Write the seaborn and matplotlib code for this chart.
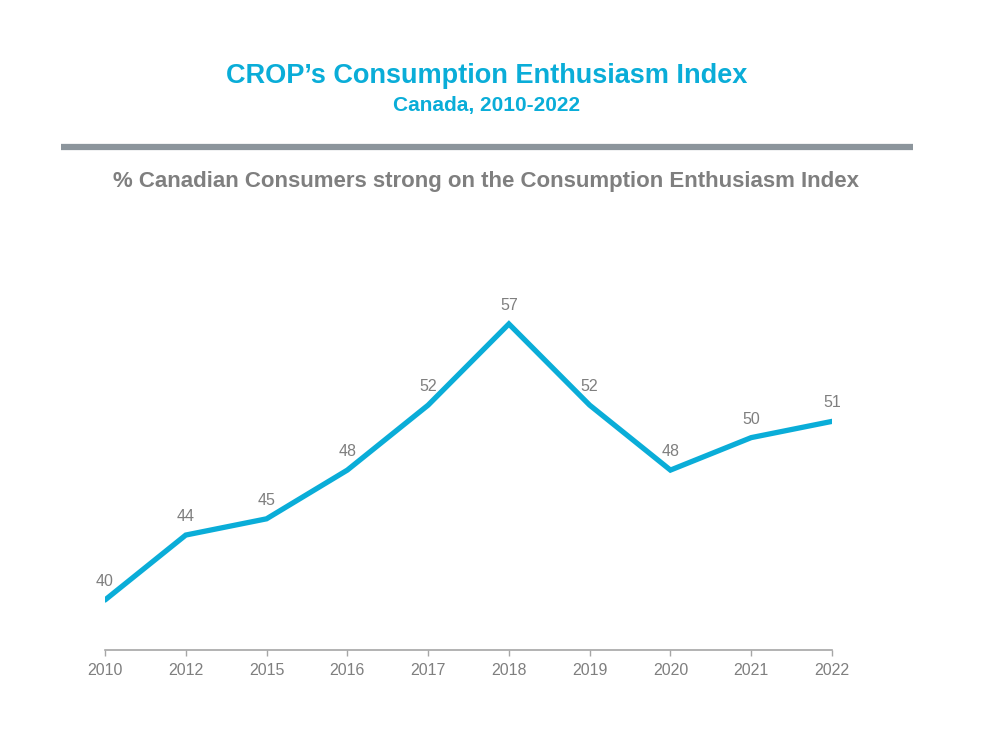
"""
CROP's Consumption Enthusiasm Index, Canada 2010-2022 line chart.
"""

import matplotlib
matplotlib.use("Agg")
import matplotlib.pyplot as plt
import pandas as pd
import seaborn as sns

# Data
years = ['2010', '2012', '2015', '2016', '2017', '2018', '2019', '2020', '2021', '2022']
values = [40, 44, 45, 48, 52, 57, 52, 48, 50, 51]

title = "CROP\u2019s Consumption Enthusiasm Index"
subtitle = "Canada, 2010-2022"
chart_label = "% Canadian Consumers strong on the Consumption Enthusiasm Index"

CYAN = '#0AADD8'
GREY = '#7F7F7F'
BAR_GREY = '#8C959C'

sns.set_style('white')
plt.rcParams['font.family'] = ['Liberation Sans Narrow', 'Liberation Sans', 'DejaVu Sans']

df = pd.DataFrame({'year': years, 'value': values})
df['pos'] = range(len(df))

fig = plt.figure(figsize=(10, 7.5), dpi=100)
ax = fig.add_axes([0.105, 0.1333, 0.727, 0.5333])

sns.lineplot(data=df, x='pos', y='value', color=CYAN, linewidth=3.8, ax=ax,
             solid_joinstyle='miter')

# value labels above the points
for x, y in zip(df['pos'], df['value']):
    ax.annotate(str(y), (x, y), xytext=(0, 8), textcoords='offset points',
                ha='center', va='bottom', color=GREY, fontsize=11.5)

ax.set_xlim(0, len(years) - 1)
ax.set_ylim(36.92, 61.55)
ax.set_xticks(df['pos'])
ax.set_xticklabels(years, color=GREY, fontsize=11.5)
ax.set_yticks([])
ax.set_xlabel('')
ax.set_ylabel('')

for side in ['top', 'right', 'left']:
    ax.spines[side].set_visible(False)
ax.spines['bottom'].set_color('#A6A6A6')
ax.spines['bottom'].set_linewidth(1.2)
ax.tick_params(axis='x', bottom=True, length=4, width=1, color='#A6A6A6', pad=5)

# Titles and header bar
sans = ['Liberation Sans', 'DejaVu Sans']
fig.text(0.487, 1 - 76 / 750, title, ha='center', va='center', color=CYAN,
         fontsize=19.5, fontweight='bold', family=sans)
fig.text(0.487, 1 - 105 / 750, subtitle, ha='center', va='center', color=CYAN,
         fontsize=15, fontweight='bold', family=sans)
fig.add_artist(plt.Line2D([0.061, 0.913], [1 - 147 / 750] * 2, color=BAR_GREY,
                          linewidth=4.5, solid_capstyle='butt'))
fig.text(0.486, 1 - 182 / 750, chart_label, ha='center', va='center', color=GREY,
         fontsize=16, fontweight='bold', family=sans)

plt.savefig('out.png', dpi=100)
plt.close()
